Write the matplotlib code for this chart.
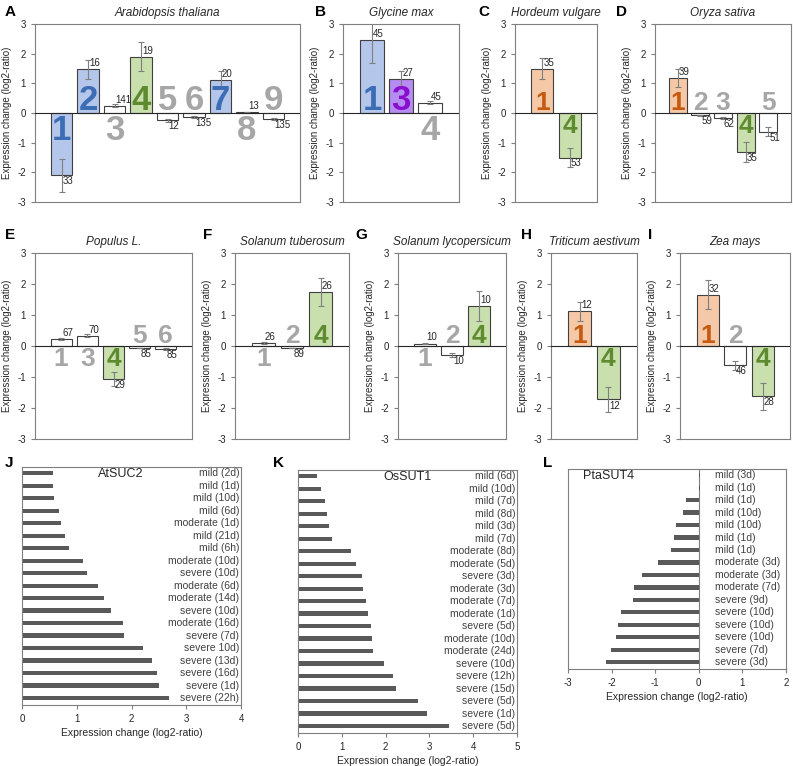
import numpy as np
import matplotlib
matplotlib.use("Agg")
import matplotlib.pyplot as plt

plt.rcParams['font.family'] = ['Liberation Sans', 'DejaVu Sans']
plt.rcParams['axes.unicode_minus'] = False

W, H = 793, 766

# colours per kind of bar: (face, digit colour)
kinds = {
    'b': ('#b4c6ea', '#3d6db5'),
    'g': ('#c9e0ae', '#5e8b30'),
    'o': ('#f5c9a8', '#c55a11'),
    'p': ('#b58cf0', '#8a0ed0'),
    'w': ('#ffffff', '#a6a6a6'),
}

# ---- panels A-I: mean log2 ratio per sucrose transporter group ----
A_ids = [1, 2, 3, 4, 5, 6, 7, 8, 9]
A_vals = [-2.1, 1.47, 0.25, 1.9, -0.25, -0.13, 1.12, 0.02, -0.2]
A_errs = [0.55, 0.33, 0.05, 0.5, 0.05, 0.03, 0.3, 0.02, 0.03]
A_n = [33, 16, 141, 19, 12, 135, 20, 13, 135]
A_kind = ['b', 'b', 'w', 'g', 'w', 'w', 'b', 'w', 'w']

B_ids = [1, 3, 4]
B_vals = [2.47, 1.15, 0.35]
B_errs = [0.77, 0.28, 0.05]
B_n = [45, 27, 45]
B_kind = ['b', 'p', 'w']

C_ids = [1, 4]
C_vals = [1.5, -1.5]
C_errs = [0.37, 0.32]
C_n = [35, 53]
C_kind = ['o', 'g']

D_ids = [1, 2, 3, 4, 5]
D_vals = [1.17, -0.08, -0.17, -1.32, -0.63]
D_errs = [0.3, 0.02, 0.04, 0.33, 0.15]
D_n = [39, 59, 62, 35, 51]
D_kind = ['o', 'w', 'w', 'g', 'w']

E_ids = [1, 3, 4, 5, 6]
E_vals = [0.22, 0.33, -1.07, -0.07, -0.1]
E_errs = [0.04, 0.05, 0.22, 0.01, 0.02]
E_n = [67, 70, 29, 85, 85]
E_kind = ['w', 'w', 'g', 'w', 'w']

F_ids = [1, 2, 4]
F_vals = [0.1, -0.07, 1.75]
F_errs = [0.02, 0.01, 0.45]
F_n = [26, 89, 26]
F_kind = ['w', 'w', 'g']

G_ids = [1, 2, 4]
G_vals = [0.08, -0.3, 1.28]
G_errs = [0.01, 0.06, 0.48]
G_n = [10, 10, 10]
G_kind = ['w', 'w', 'g']

H_ids = [1, 4]
H_vals = [1.12, -1.72]
H_errs = [0.3, 0.4]
H_n = [12, 12]
H_kind = ['o', 'g']

I_ids = [1, 2, 4]
I_vals = [1.65, -0.62, -1.62]
I_errs = [0.47, 0.14, 0.44]
I_n = [32, 46, 28]
I_kind = ['o', 'w', 'g']

# ---- panels J-L: single transporter under drought ----
J_labels = ['mild (2d)', 'mild (1d)', 'mild (10d)', 'mild (6d)', 'moderate (1d)',
            'mild (21d)', 'mild (6h)', 'moderate (10d)', 'severe (10d)',
            'moderate (6d)', 'moderate (14d)', 'severe (10d)', 'moderate (16d)',
            'severe (7d)', 'severe 10d)', 'severe (13d)', 'severe (16d)',
            'severe (1d)', 'severe (22h)']
J_vals = [0.57, 0.57, 0.58, 0.68, 0.72, 0.79, 0.86, 1.12, 1.18, 1.39, 1.49,
          1.63, 1.85, 1.86, 2.21, 2.37, 2.47, 2.51, 2.68]

K_labels = ['mild (6d)', 'mild (10d)', 'mild (7d)', 'mild (8d)', 'mild (3d)',
            'mild (7d)', 'moderate (8d)', 'moderate (5d)', 'severe (3d)',
            'moderate (3d)', 'moderate (7d)', 'moderate (1d)', 'severe (5d)',
            'moderate (10d)', 'moderate (24d)', 'severe (10d)', 'severe (12h)',
            'severe (15d)', 'severe (5d)', 'severe (1d)', 'severe (5d)']
K_vals = [0.44, 0.53, 0.62, 0.66, 0.71, 0.77, 1.21, 1.33, 1.46, 1.48, 1.56,
          1.6, 1.66, 1.69, 1.71, 1.96, 2.16, 2.23, 2.75, 2.95, 3.45]

L_labels = ['mild (3d)', 'mild (1d)', 'mild (1d)', 'mild (10d)', 'mild (10d)',
            'mild (1d)', 'mild (1d)', 'moderate (3d)', 'moderate (3d)',
            'moderate (7d)', 'severe (9d)', 'severe (10d)', 'severe (10d)',
            'severe (10d)', 'severe (7d)', 'severe (3d)']
L_vals = [0.03, 0.02, -0.29, -0.37, -0.53, -0.56, -0.63, -0.94, -1.31, -1.49,
          -1.5, -1.79, -1.85, -1.89, -2.01, -2.12]

fig = plt.figure(figsize=(W / 100, H / 100), dpi=100)


def box(l, t, r, b):
    return fig.add_axes([l / W, 1 - b / H, (r - l) / W, (b - t) / H])


def style(ax):
    for s in ax.spines.values():
        s.set_color('#7f7f7f')
        s.set_linewidth(0.8)
    ax.tick_params(colors='#7f7f7f', labelcolor='#262626', labelsize=7,
                   length=3, width=0.8)


def group_panel(rect, title, ids, vals, errs, ns, kind, dsize):
    ax = box(*rect)
    style(ax)
    x = np.arange(1, len(ids) + 1)
    faces = [kinds[k][0] for k in kind]
    ax.bar(x, vals, width=0.8, color=faces, edgecolor='#404040', linewidth=0.8,
           yerr=errs, error_kw=dict(ecolor='#7f7f7f', elinewidth=0.8, capsize=2,
                                    capthick=0.8), zorder=2)
    ax.axhline(0, color='#262626', lw=0.8, zorder=3)
    for xi, v, n, g, k in zip(x, vals, ns, ids, kind):
        sgn = 1 if v >= 0 else -1
        ax.text(xi + 0.04, v + sgn * 0.2, str(n), fontsize=7, color='#262626',
                ha='left', va='center', zorder=4)
        # coloured bars carry the digit inside, white bars on the other side
        side = sgn if k != 'w' else -sgn
        if side > 0:
            ax.annotate(str(g), (xi, 0), xytext=(0, 2), textcoords='offset points',
                        ha='center', va='baseline', fontsize=dsize,
                        fontweight='bold', color=kinds[k][1], zorder=4)
        else:
            ax.annotate(str(g), (xi, 0), xytext=(0, -1), textcoords='offset points',
                        ha='center', va='top', fontsize=dsize,
                        fontweight='bold', color=kinds[k][1], zorder=4)
    ax.set_xlim(0, len(ids) + 1)
    ax.set_ylim(-3, 3)
    ax.set_yticks([-3, -2, -1, 0, 1, 2, 3])
    ax.set_xticks([])
    ax.set_ylabel('Expression change (log2-ratio)', fontsize=7, color='#262626',
                  labelpad=4)
    ax.set_title(title, fontsize=8.5, style='italic', color='#262626', pad=6)
    return ax


group_panel((35, 24, 300, 202), 'Arabidopsis thaliana', A_ids, A_vals, A_errs, A_n, A_kind, 25)
group_panel((343, 24, 459, 202), 'Glycine max', B_ids, B_vals, B_errs, B_n, B_kind, 25)
group_panel((515, 24, 597, 202), 'Hordeum vulgare', C_ids, C_vals, C_errs, C_n, C_kind, 19)
group_panel((655, 24, 791, 202), 'Oryza sativa', D_ids, D_vals, D_errs, D_n, D_kind, 19)
group_panel((35, 253, 192, 439), 'Populus L.', E_ids, E_vals, E_errs, E_n, E_kind, 19)
group_panel((235, 253, 349, 439), 'Solanum tuberosum', F_ids, F_vals, F_errs, F_n, F_kind, 19)
group_panel((398, 253, 506, 439), 'Solanum lycopersicum', G_ids, G_vals, G_errs, G_n, G_kind, 19)
group_panel((551, 253, 637, 439), 'Triticum aestivum', H_ids, H_vals, H_errs, H_n, H_kind, 19)
group_panel((680, 253, 790, 439), 'Zea mays', I_ids, I_vals, I_errs, I_n, I_kind, 19)


def drought_panel(rect, name, labels, vals, xlim, name_x, lab_x, lab_ha):
    ax = box(*rect)
    style(ax)
    y = np.arange(len(vals))
    ax.barh(y, vals, height=0.35, color='#595959', zorder=2)
    for yi, lab in zip(y, labels):
        ax.text(lab_x, yi, lab, fontsize=7.5, color='#404040', ha=lab_ha,
                va='center')
    ax.text(name_x, 0.1, name, fontsize=9, color='#262626', ha='left', va='center')
    ax.set_xlim(*xlim)
    ax.set_ylim(len(vals) - 0.45, -0.5)
    ax.set_yticks([])
    ax.set_xticks(np.arange(xlim[0], xlim[1] + 1))
    ax.set_xlabel('Expression change (log2-ratio)', fontsize=7.5, color='#262626',
                  labelpad=3)
    return ax


drought_panel((22, 467, 241, 705), 'AtSUC2', J_labels, J_vals, (0, 4), 1.38, 3.97, 'right')
drought_panel((298, 470, 517, 733), 'OsSUT1', K_labels, K_vals, (0, 5), 1.95, 4.96, 'right')
axL = drought_panel((568, 469, 786, 669), 'PtaSUT4', L_labels, L_vals, (-3, 2), -2.66, 0.38, 'left')
axL.axvline(0, color='#7f7f7f', lw=0.8, zorder=1)

# panel letters
letters = [('A', 5, 12), ('B', 315, 12), ('C', 478, 12), ('D', 616, 12),
           ('E', 5, 235), ('F', 203, 235), ('G', 355, 235), ('H', 521, 235),
           ('I', 648, 235), ('J', 5, 463), ('K', 273, 463), ('L', 543, 463)]
for s, lx, ly in letters:
    fig.text(lx / W, 1 - ly / H, s, fontsize=11, fontweight='bold', ha='left',
             va='center')

fig.savefig('out.png', dpi=100)
